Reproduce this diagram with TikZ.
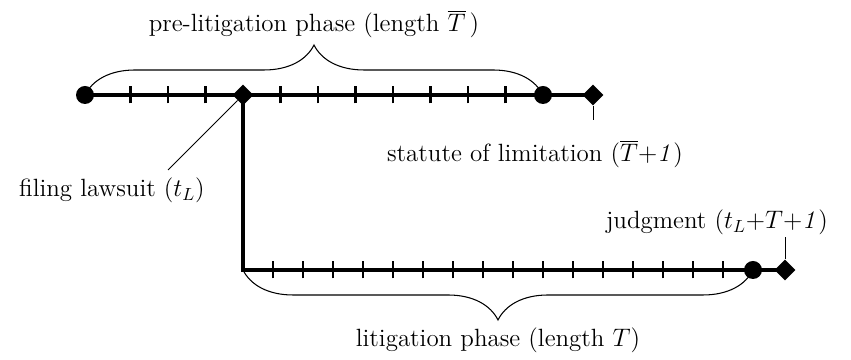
\documentclass[tikz,border=0pt]{standalone}
\usepackage{amsmath,amssymb}
\usetikzlibrary{decorations.pathreplacing,shapes.geometric}

\tikzset{
  timeline/.style={line width=2.5pt},
  tickmark/.style={line width=1.2pt},
  dot/.style={circle,fill,inner sep=0pt,minimum size=0.36cm},
  diam/.style={diamond,fill,inner sep=0pt,minimum size=0.42cm},
  lead/.style={line width=0.5pt},
  brc/.style={decorate,decoration={brace,amplitude=1cm},line width=0.6pt},
  lbl/.style={font=\fontsize{14.2}{17}\selectfont},
}

\begin{document}
\begin{tikzpicture}
  \useasboundingbox (0,0) rectangle (17.02,7.2);
  % pre-litigation line
  \node[dot] (start) at (1.7,5.3) {};
  \node[diam] (filed) at (4.86,5.3) {};
  \node[dot] (tbar) at (10.86,5.3) {};
  \node[diam] (sol) at (11.86,5.3) {};
  % litigation line
  \coordinate (corner) at (4.86,1.8);
  \node[dot] (tend) at (15.06,1.8) {};
  \node[diam] (judg) at (15.7,1.8) {};
  \draw[timeline] (start.center) -- (sol.center);
  \draw[timeline,line join=miter] (filed.center) -- (corner) -- (judg.center);
  \foreach \k in {-3,-2,-1,1,2,...,7}
    \draw[tickmark] ({4.86+0.75*\k},5.13) -- ++(0,0.34);
  \foreach \k in {1,...,16}
    \draw[tickmark] ({4.86+0.6*\k},1.63) -- ++(0,0.34);
  % braces
  \draw[brc] (start.center) -- (tbar.center);
  \draw[brc] (tend.center) -- (corner);
  % labels
  \node[lbl] (prelab) at (6.28,6.72) {pre-litigation phase (length $\overline{T}$\,)};
  \node[lbl] (statlab) at (10.7,4.12) {statute of limitation ($\overline{T}{+}\mathit{1}$)};
  \node[lbl] (filelab) at (2.24,3.4) {filing lawsuit ($t_L$)};
  \node[lbl] (judglab) at (14.34,2.76) {judgment ($t_L{+}T{+}\mathit{1}$)};
  \node[lbl] (litlab) at (9.96,0.4) {litigation phase (length $T$)};
  % leaders
  \coordinate (solend) at (11.86,4.8);
  \coordinate (judgend) at (15.7,2.46);
  \coordinate (filend) at (3.36,3.8);
  \draw[lead] (sol) -- (solend);
  \draw[lead] (judg) -- (judgend);
  \draw[lead] (filed) -- (filend);
\end{tikzpicture}
\end{document}
